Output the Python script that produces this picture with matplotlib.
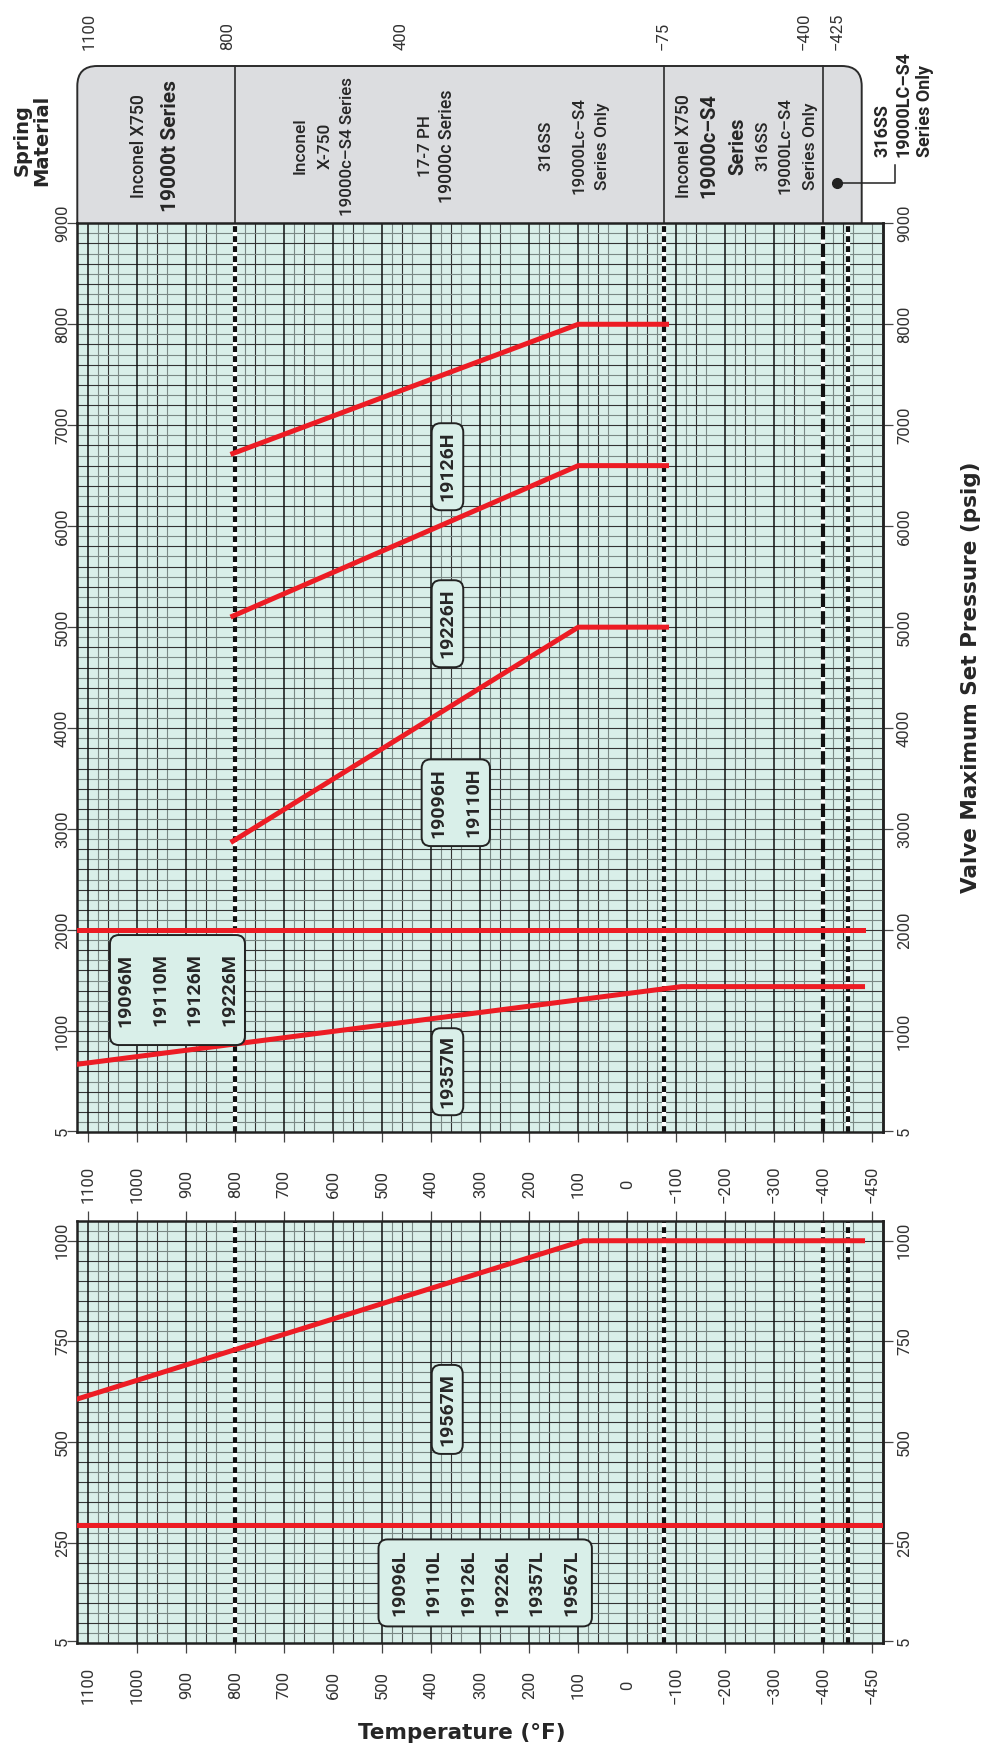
import numpy as np
import matplotlib
matplotlib.use('Agg')
import matplotlib.pyplot as plt
from matplotlib.patches import FancyBboxPatch
from matplotlib.transforms import IdentityTransform, blended_transform_factory

plt.rcParams['font.family'] = ['Roboto', 'DejaVu Sans']

#%% data
temp_ticks = [1100, 1000, 900, 800, 700, 600, 500, 400, 300, 200, 100, 0,
              -100, -200, -300, -400, -450]
upper_p_ticks = [5, 1000, 2000, 3000, 4000, 5000, 6000, 7000, 8000, 9000]
lower_p_ticks = [5, 250, 500, 750, 1000]

# upper chart limit lines (deg F, psig)
m19357_t = [1122, -110, -440]
m19357_p = [671, 1440, 1440]
m_group_t = [1122, -440]
m_group_p = [2000, 2000]
h19096_t = [805, 100, -80]
h19096_p = [2880, 5000, 5000]
h19226_t = [805, 100, -80]
h19226_p = [5110, 6600, 6600]
h19126_t = [805, 100, -80]
h19126_p = [6720, 8000, 8000]
# lower chart
m19567_t = [1122, 90, -440]
m19567_p = [607, 1000, 1000]
l_group_t = [1122, -461]
l_group_p = [295, 295]

# spring material limits (deg F)
dotted_t = [800, -75, -425]
dashed_t = -400
header_marks = ['1100', '800', '400', '-75', '-400', '-425']

m_models = ['19096M', '19110M', '19126M', '19226M']
h_models = ['19096H', '19110H']
l_models = ['19096L', '19110L', '19126L', '19226L', '19357L', '19567L']

RED = '#ed1c24'
MINT = '#d9efe9'
INK = '#262626'

#%% temperature scale: linear, last step (-400..-450) drawn as a full step
def fwd(t):
    t = np.asarray(t, float)
    return np.where(t >= -400, t, 2 * t + 400)

def inv(u):
    u = np.asarray(u, float)
    return np.where(u >= -400, u, (u - 400) / 2)

W, H = 990, 1748
fig = plt.figure(figsize=(W / 100, H / 100), dpi=100)

def px_axes(x0, y0, x1, y1):
    return fig.add_axes([x0 / W, 1 - y1 / H, (x1 - x0) / W, (y1 - y0) / H])

hdr = px_axes(0, 0, W, 223.3)
ax1 = px_axes(77.3, 223.3, 883.3, 1132)
ax2 = px_axes(77.3, 1220.6, 883.3, 1643.3)

def fmt(v):
    return str(v).replace('-', '\u2212')

def panel(ax, ymax, hstep, yt):
    ax.set_xscale('function', functions=(fwd, inv))
    ax.set_xlim(1122.4, -461.2)
    ax.set_ylim(0, ymax)
    ax.set_facecolor(MINT)
    xt = ax.get_xaxis_transform()
    # graph paper
    for m in range(1100, -500, -100):
        for d, c in ((20, '#7a8985'), (40, '#333333'), (60, '#7a8985')):
            ax.vlines(inv(m - d), 0, 1, transform=xt, color=c, lw=0.8, zorder=1)
    ax.vlines(inv(-500), 0, 1, transform=xt, color='#7a8985', lw=0.8, zorder=1)
    for m in range(1100, -400, -100):
        if m != 800:
            ax.vlines(m, 0, 1, transform=xt, color='#111111', lw=1.1, zorder=1.2)
    for i, p in enumerate(np.arange(hstep, ymax, hstep)):
        ax.axhline(p, color='#333333' if i % 2 else '#7a8985', lw=0.8, zorder=1)
    for s in ax.spines.values():
        s.set_linewidth(1.8)
        s.set_color('#222222')
    ax.set_xticks(temp_ticks, labels=[fmt(t) for t in temp_ticks])
    ax.set_yticks(yt, labels=[fmt(p) for p in yt])
    ax.tick_params(direction='out', length=7.2, width=0.9, color='#444444',
                   labelsize=12, labelcolor='#333333', labelrotation=90)
    ax.tick_params(axis='y', left=True, right=False, labelleft=True, pad=-2)
    sec = ax.secondary_yaxis('right')
    sec.set_yticks(yt, labels=[fmt(p) for p in yt])
    sec.tick_params(direction='out', length=7.2, width=0.9, color='#444444',
                    labelsize=12, labelcolor='#333333', labelrotation=90, pad=2.6)
    sec.spines['right'].set_linewidth(1.8)
    sec.spines['right'].set_color('#222222')
    plt.setp(ax.get_yticklabels(), va='center')
    plt.setp(sec.get_yticklabels(), va='center')

def limit_line(ax, t, style):
    ax.axvline(t, color='white', lw=3.0, zorder=2)
    ax.axvline(t, color='#111111', lw=3.0, dashes=style, zorder=2.1)

def tag(ax, t, p, names, w, h, step=24.8):
    x, y = ax.transData.transform((t, p))
    ax.add_artist(FancyBboxPatch((x - w / 2, y - h / 2), w, h,
                                 boxstyle='round,pad=0,rounding_size=9',
                                 transform=IdentityTransform(), fc=MINT,
                                 ec='#222222', lw=1.4, zorder=5))
    n = len(names)
    for i, s in enumerate(names):
        ax.annotate(s, (t, p), xytext=((i - (n - 1) / 2) * step, 0),
                    textcoords='offset points', rotation=90, ha='center',
                    va='center', fontsize=14, fontweight='bold', color=INK, zorder=6)

#%% upper chart
panel(ax1, 9000, 100, upper_p_ticks)
ax1.tick_params(axis='x', top=False, bottom=True, labelbottom=True, pad=30.2)
plt.setp(ax1.get_xticklabels(), va='center')
for t in dotted_t:
    limit_line(ax1, t, (1.4, 1.0))
limit_line(ax1, dashed_t, (3.2, 1.0))
for t, p in ((m19357_t, m19357_p), (m_group_t, m_group_p), (h19096_t, h19096_p),
             (h19226_t, h19226_p), (h19126_t, h19126_p)):
    ax1.plot(t, p, color=RED, lw=3.6, zorder=3, solid_joinstyle='miter')
tag(ax1, 918, 1406, m_models, 135, 110)
tag(ax1, 367, 597, ['19357M'], 31.6, 87)
tag(ax1, 350, 3261, h_models, 68.3, 86.7)
tag(ax1, 367, 5034, ['19226H'], 31.6, 87)
tag(ax1, 367, 6589, ['19126H'], 31.6, 87)

#%% lower chart
panel(ax2, 1050, 25, lower_p_ticks)
ax2.tick_params(axis='x', top=True, bottom=True, labeltop=False, labelbottom=True, pad=22.8)
plt.setp(ax2.get_xticklabels(), va='center')
ax2.xaxis.get_major_ticks()[0].tick1line.set_visible(False)
for t in dotted_t + [dashed_t]:
    limit_line(ax2, t, (1.4, 1.0))
for t, p in ((m19567_t, m19567_p), (l_group_t, l_group_p)):
    ax2.plot(t, p, color=RED, lw=3.6, zorder=3, solid_joinstyle='miter')
tag(ax2, 367.5, 581, ['19567M'], 31, 89)
tag(ax2, 290, 150, l_models, 213.4, 87)

#%% spring material header (pixel coordinates)
hdr.set_xlim(0, W)
hdr.set_ylim(223.3, 0)
hdr.axis('off')
hdr.add_patch(FancyBboxPatch((77.3, 66), 784.4, 220, boxstyle='round,pad=0,rounding_size=20',
                             fc='#dcdde0', ec='#2b2b2b', lw=1.4))
tr = blended_transform_factory(ax1.transData, hdr.transData)
for t in (800, -75, -400):
    hdr.plot([t, t], [66, 223.3], color='#2b2b2b', lw=1.2, transform=tr)
for lab, x in zip(header_marks, [89.5, 227.5, 401, 663, 804, 837]):
    hdr.text(x, 50, fmt(lab), rotation=90, ha='center', va='bottom', fontsize=12, color='#333333')

cells = [(139, 'Inconel X750', 12.8, 'medium'), (170, '19000t Series', 15, 'semibold'),
         (300, 'Inconel', 12.5, 'medium'), (325, 'X-750', 12.5, 'medium'),
         (347.5, '19000c\u2013S4 Series', 12.2, 'medium'),
         (425, '17-7 PH', 12.2, 'medium'), (447.5, '19000c Series', 12.8, 'medium'),
         (545.7, '316SS', 12.5, 'medium'), (579, '19000Lc\u2013S4', 12.2, 'medium'),
         (602.5, 'Series Only', 12.5, 'medium'),
         (684, 'Inconel X750', 12.8, 'medium'), (709, '19000c\u2013S4', 14.5, 'semibold'),
         (737.5, 'Series', 14.5, 'semibold'), (762.5, '316SS', 12.5, 'medium'),
         (785.5, '19000Lc\u2013S4', 12.2, 'medium'), (810.5, 'Series Only', 12.5, 'medium')]
for x, s, fs, fw in cells:
    hdr.text(x, 146, s, rotation=90, ha='center', va='center', fontsize=fs,
             fontweight=fw, color=INK)

hdr.text(32, 140, 'Spring\nMaterial', rotation=90, ha='center', va='center',
         fontsize=14, fontweight='bold', family='DejaVu Sans', color=INK, linespacing=1.0)
hdr.text(904, 157, '316SS\n19000LC\u2013S4\nSeries Only', rotation=90, ha='center',
         va='bottom', multialignment='left', fontsize=13, fontweight='semibold',
         color=INK, linespacing=1.25)
hdr.plot([836.7, 895, 895], [183.3, 183.3, 165], color='#222222', lw=1.1, clip_on=False)
hdr.plot([836.7], [183.3], 'o', color='#222222', ms=7, clip_on=False)

#%% axis titles
fig.text(971 / W, 1 - 677 / H, 'Valve Maximum Set Pressure (psig)', rotation=90,
         ha='center', va='center', fontsize=15.5, fontweight='bold',
         family='DejaVu Sans', color=INK)
fig.text(462 / W, 1 - 1733 / H, 'Temperature (\u00b0F)', ha='center', va='center',
         fontsize=15.5, fontweight='bold', family='DejaVu Sans', color=INK)

plt.savefig('out.png', dpi=100)
